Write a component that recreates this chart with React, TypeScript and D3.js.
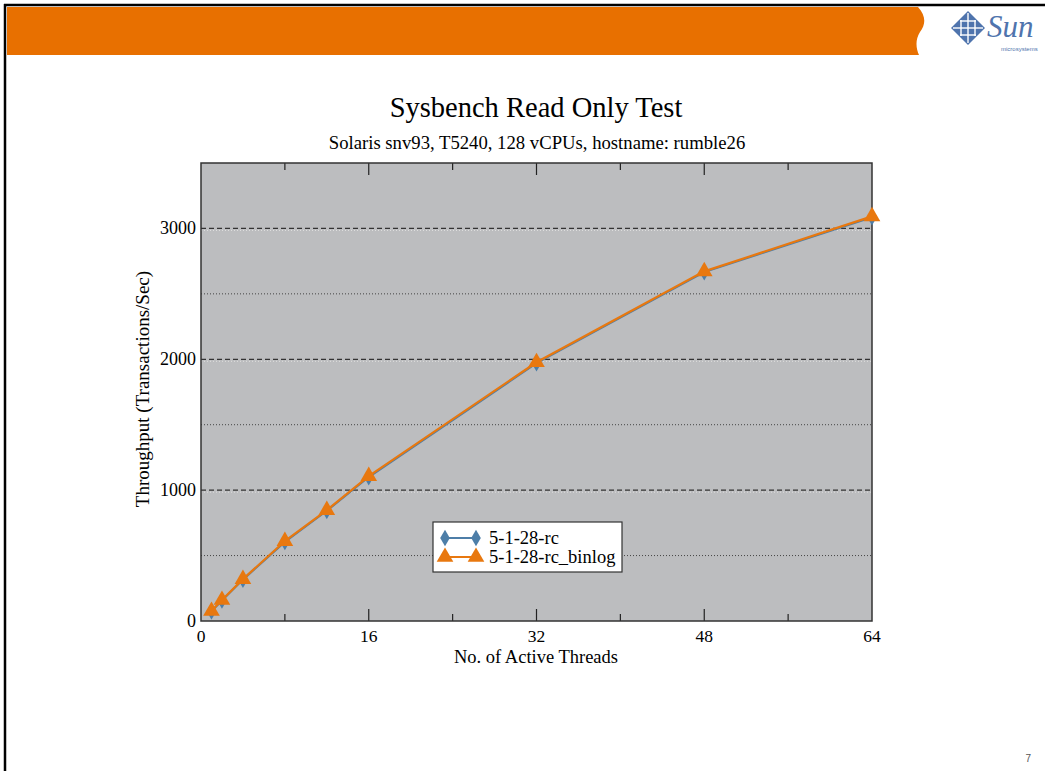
import * as d3 from 'd3';
import React, { useRef, useEffect } from 'react';

const threads = [1, 2, 4, 8, 12, 16, 32, 48, 64];
const rcValues = [74, 157, 316, 604, 842, 1100, 1970, 2666, 3086];
const binlogValues = [76, 160, 320, 610, 847, 1107, 1977, 2672, 3092];
const seriesNames = ['5-1-28-rc', '5-1-28-rc_binlog'];
const xTickLabels = [0, 16, 32, 48, 64];
const yTickLabels = [0, 1000, 2000, 3000];

const WIDTH = 1045, HEIGHT = 771;
const BLUE = '#4d7ea8', ORANGE = '#e8780f';
const SERIF = '"Liberation Serif", "DejaVu Serif", serif';

function App() {
    const ref = useRef(null);

    useEffect(() => {
        const svg = d3.select(ref.current);
        svg.selectAll('*').remove();

        // page frame
        svg.append('rect').attr('width', WIDTH).attr('height', HEIGHT).attr('fill', '#fff');
        svg.append('line').attr('x1', 4).attr('x2', WIDTH).attr('y1', 5).attr('y2', 5)
            .attr('stroke', '#000').attr('stroke-width', 2.5);
        svg.append('line').attr('x1', 5).attr('x2', 5).attr('y1', 4).attr('y2', HEIGHT)
            .attr('stroke', '#000').attr('stroke-width', 2.5);

        // orange header band with wavy end
        svg.append('path')
            .attr('d', 'M7,7 L918,7 C926,16 926,24 920,32 C915,40 916,48 919,55 L7,55 Z')
            .attr('fill', '#e87000');

        // Sun logo
        const logo = svg.append('g').attr('transform', 'translate(968,28)');
        logo.append('rect').attr('x', -12).attr('y', -12).attr('width', 24).attr('height', 24)
            .attr('transform', 'rotate(45)').attr('fill', '#4f74ad');
        [-7, 0, 7].forEach(o => {
            logo.append('line').attr('x1', -15 + Math.abs(o)).attr('x2', 15 - Math.abs(o))
                .attr('y1', o).attr('y2', o).attr('stroke', '#fff').attr('stroke-width', 1.4);
            logo.append('line').attr('y1', -15 + Math.abs(o)).attr('y2', 15 - Math.abs(o))
                .attr('x1', o).attr('x2', o).attr('stroke', '#fff').attr('stroke-width', 1.4);
        });
        svg.append('text').attr('x', 987).attr('y', 37).text('Sun')
            .style('font-family', SERIF).style('font-style', 'italic').style('font-size', '31px')
            .attr('fill', '#4f74ad');
        svg.append('text').attr('x', 1001).attr('y', 51).text('microsystems')
            .style('font-family', 'Liberation Sans, sans-serif').style('font-size', '6px')
            .attr('fill', '#4f74ad');

        // page number
        svg.append('text').attr('x', 1031).attr('y', 762).attr('text-anchor', 'end').text('7')
            .style('font-family', 'Liberation Sans, sans-serif').style('font-size', '10px').attr('fill', '#555');

        const margin = { left: 201, right: 872, top: 163, bottom: 621 };
        const x = d3.scaleLinear().domain([0, 64]).range([margin.left, margin.right]);
        const y = d3.scaleLinear().domain([0, 3500]).range([margin.bottom, margin.top]);

        // titles
        svg.append('text').attr('x', 536).attr('y', 117).attr('text-anchor', 'middle')
            .text('Sysbench Read Only Test').style('font-family', SERIF).style('font-size', '28.5px');
        svg.append('text').attr('x', 537).attr('y', 149).attr('text-anchor', 'middle')
            .text('Solaris snv93, T5240, 128 vCPUs, hostname: rumble26')
            .style('font-family', SERIF).style('font-size', '18.7px');

        // plot background
        svg.append('rect').attr('x', margin.left).attr('y', margin.top)
            .attr('width', margin.right - margin.left).attr('height', margin.bottom - margin.top)
            .attr('fill', '#bcbdbf');

        // grid lines
        [500, 1500, 2500].forEach(v => {
            svg.append('line').attr('x1', margin.left).attr('x2', margin.right)
                .attr('y1', y(v)).attr('y2', y(v))
                .attr('stroke', '#444').attr('stroke-width', 1).attr('stroke-dasharray', '1,2');
        });
        [1000, 2000, 3000].forEach(v => {
            svg.append('line').attr('x1', margin.left).attr('x2', margin.right)
                .attr('y1', y(v) + 2).attr('y2', y(v) + 2)
                .attr('stroke', '#e0e0e0').attr('stroke-width', 1).attr('stroke-dasharray', '1,2');
            svg.append('line').attr('x1', margin.left).attr('x2', margin.right)
                .attr('y1', y(v)).attr('y2', y(v))
                .attr('stroke', '#333').attr('stroke-width', 1.2).attr('stroke-dasharray', '5,3');
        });

        // x ticks at every 8, longer at 16s
        d3.range(8, 64, 8).forEach(t => {
            const len = t % 16 === 0 ? 12 : 7;
            svg.append('line').attr('x1', x(t)).attr('x2', x(t))
                .attr('y1', margin.top).attr('y2', margin.top + len).attr('stroke', '#222').attr('stroke-width', 1.2);
            svg.append('line').attr('x1', x(t)).attr('x2', x(t))
                .attr('y1', margin.bottom).attr('y2', margin.bottom - len).attr('stroke', '#222').attr('stroke-width', 1.2);
        });

        // frame
        svg.append('rect').attr('x', margin.left).attr('y', margin.top)
            .attr('width', margin.right - margin.left).attr('height', margin.bottom - margin.top)
            .attr('fill', 'none').attr('stroke', '#333').attr('stroke-width', 1.5);

        // tick labels
        xTickLabels.forEach(t => {
            svg.append('text').attr('x', x(t)).attr('y', 642).attr('text-anchor', 'middle').text(t)
                .style('font-family', SERIF).style('font-size', '17.5px');
        });
        yTickLabels.forEach(t => {
            svg.append('text').attr('x', 196).attr('y', y(t)).attr('text-anchor', 'end')
                .attr('dominant-baseline', 'central').text(t)
                .style('font-family', SERIF).style('font-size', '18px');
        });

        // axis labels
        svg.append('text').attr('x', 536).attr('y', 663).attr('text-anchor', 'middle')
            .text('No. of Active Threads').style('font-family', SERIF).style('font-size', '18.5px');
        svg.append('text').attr('transform', 'translate(149,389) rotate(-90)').attr('text-anchor', 'middle')
            .text('Throughput (Transactions/Sec)').style('font-family', SERIF).style('font-size', '19px');

        const line = d3.line().x(d => x(d[0])).y(d => y(d[1]));
        const diamond = d3.symbol().type(d3.symbolDiamond).size(80);
        const triangle = d3.symbol().type(d3.symbolTriangle).size(120);

        const rcPts = threads.map((t, i) => [t, rcValues[i]]);
        const binPts = threads.map((t, i) => [t, binlogValues[i]]);

        /* rc series */
        svg.append('path').datum(rcPts).attr('d', line).attr('fill', 'none')
            .attr('stroke', BLUE).attr('stroke-width', 2);
        svg.selectAll('.rc').data(rcPts).enter().append('path').attr('class', 'rc')
            .attr('d', diamond).attr('transform', d => `translate(${x(d[0])},${y(d[1])})`).attr('fill', BLUE);

        /* binlog series */
        svg.append('path').datum(binPts).attr('d', line).attr('fill', 'none')
            .attr('stroke', ORANGE).attr('stroke-width', 2.2);
        svg.selectAll('.bin').data(binPts).enter().append('path').attr('class', 'bin')
            .attr('d', triangle).attr('transform', d => `translate(${x(d[0])},${y(d[1])})`).attr('fill', ORANGE);

        // legend
        const lg = svg.append('g').attr('transform', 'translate(433,522)');
        lg.append('rect').attr('width', 189).attr('height', 50).attr('fill', '#fff')
            .attr('stroke', '#333').attr('stroke-width', 1.2);
        seriesNames.forEach((name, i) => {
            const cy = 16 + i * 19;
            const color = i === 0 ? BLUE : ORANGE;
            lg.append('line').attr('x1', 12).attr('x2', 43).attr('y1', cy).attr('y2', cy)
                .attr('stroke', color).attr('stroke-width', 2);
            [12, 43].forEach(cx => {
                lg.append('path').attr('d', i === 0 ? diamond : triangle)
                    .attr('transform', `translate(${cx},${cy})`).attr('fill', color);
            });
            lg.append('text').attr('x', 56).attr('y', cy).attr('dominant-baseline', 'central').text(name)
                .style('font-family', SERIF).style('font-size', '18.5px');
        });
    }, []);

    return (
        <svg ref={ref} width={WIDTH} height={HEIGHT}
            style={{ position: 'absolute', left: 0, top: 0, display: 'block' }}></svg>
    );
}

export default App;
